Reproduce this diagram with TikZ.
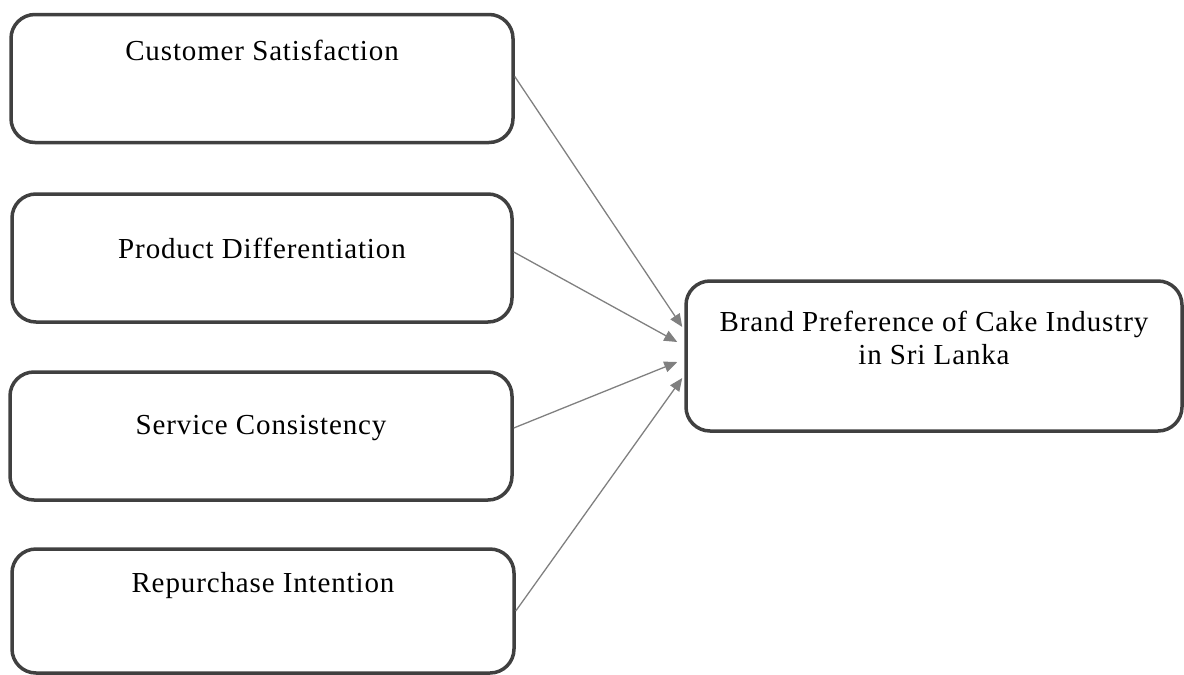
\documentclass[tikz,border=0pt]{standalone}
\usepackage{fontspec}
\setmainfont{Liberation Serif}[LetterSpace=3]
\usetikzlibrary{arrows.meta, positioning, calc}

\begin{document}
\begin{tikzpicture}[x=1pt, y=-1pt, font=\fontsize{29}{33}\selectfont,
    box/.style={draw=black!75, line width=3.5pt, rounded corners=24pt, inner sep=0pt},
    lbl/.style={anchor=center, align=center},
    link/.style={-{Triangle[length=13pt, width=11pt]}, draw=black!50, line width=1.3pt}
]
  \useasboundingbox (0,0) rectangle (1184,675);

  \node[box, minimum width=502pt, minimum height=128pt] (cs) at (262,78.5) {};
  \node[box, minimum width=500pt, minimum height=128pt] (pd) at (262,258) {};
  \node[box, minimum width=502pt, minimum height=128pt] (sc) at (261,436) {};
  \node[box, minimum width=502pt, minimum height=124pt] (ri) at (263,611) {};
  \node[box, minimum width=496pt, minimum height=150pt] (bp) at (934,356) {};

  \node[lbl] at ($(cs.north)+(0,38)$) {Customer Satisfaction};
  \node[lbl] at ($(pd.north)+(0,56)$) {Product Differentiation};
  \node[lbl] at ($(sc.north)+(0,58)$) {Service Consistency};
  \node[lbl] at ($(ri.north)+(0,38)$) {Repurchase Intention};
  \node[lbl] at ($(bp.north)+(0,59)$) {Brand Preference of Cake Industry\\in Sri Lanka};

  \draw[link] ($(cs.east)+(0,-2)$) -- ($(bp.west)+(-2,-29)$);
  \draw[link] ($(pd.east)+(0,-6)$) -- ($(bp.west)+(-7,-14)$);
  \draw[link] ($(sc.east)+(0,-8)$) -- ($(bp.west)+(-7,6)$);
  \draw[link] (ri.east) -- ($(bp.west)+(-2,22)$);
\end{tikzpicture}
\end{document}
